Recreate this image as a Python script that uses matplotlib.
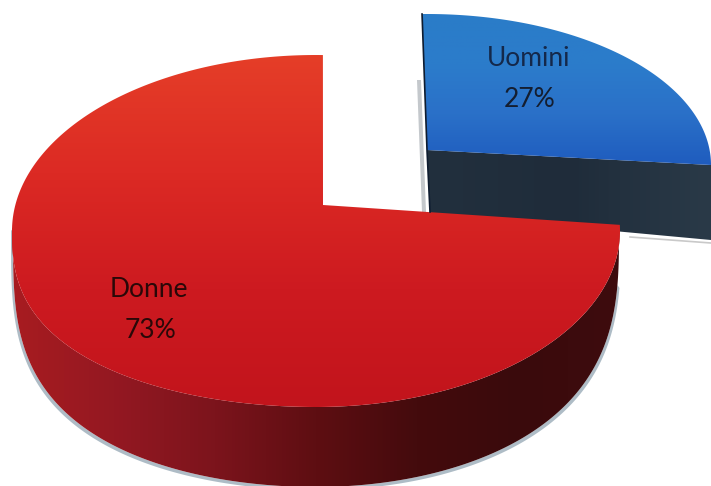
import numpy as np
import matplotlib
matplotlib.use("Agg")
import matplotlib.pyplot as plt
from matplotlib.colors import LinearSegmentedColormap
from matplotlib.patches import Polygon

labels = ["Uomini", "Donne"]
shares = [27, 73]

plt.rcParams["font.family"] = ["Lato", "DejaVu Sans"]

fig = plt.figure(figsize=(7.11, 4.86), dpi=100)
ax = fig.add_axes([0, 0, 1, 1])
ax.set_xlim(0, 711)
ax.set_ylim(486, 0)
ax.axis("off")


def arc(cx, cy, rx, rt, rb, a0, a1, pl=1.0, pr=1.0, n=300):
    # ellipse arc, the lower half is pushed out to fake the perspective
    t = np.radians(np.linspace(a0, a1, n))
    c, s = np.cos(t), np.sin(t)
    x = cx + rx * c
    low = np.abs(s) ** np.where(c < 0, pl, pr)
    y = np.where(s > 0, cy - rt * s, cy + rb * low)
    return np.column_stack([x, y])


def fill(poly, colors, horizontal=False, z=2):
    cmap = LinearSegmentedColormap.from_list("g", colors)
    x0, y0 = poly.min(axis=0)
    x1, y1 = poly.max(axis=0)
    grad = np.linspace(0, 1, 256)
    grad = grad[None, :] if horizontal else grad[:, None]
    im = ax.imshow(grad, cmap=cmap, extent=[x0, x1, y1, y0], aspect="auto", zorder=z)
    im.set_clip_path(Polygon(poly, transform=ax.transData))


# slice boundary on the drawn ellipse, rotated a bit by the view
split = 90 - shares[0] * 3.6
red_from = split + 9.2
red_to = 90 - sum(shares) * 3.6 - 1.3
blue_to = split + 7.2

# red slice
red_c = (323, 205)
red_arc = arc(316, 231, 304, 176, 176, red_from, red_to, pl=0.78)
red_top = np.vstack([red_c, red_arc])

# side wall, from the right corner round to the far left
front = arc(316, 231, 304, 176, 176, red_from, -181, pl=0.78)
bottom = arc(316, 231, 303, 176, 256, -1, -181, pl=0.6, pr=0.68)
side = np.vstack([front, bottom[::-1]])

# thin grey edge under the wall
edge_l = bottom[150:]
edge_r = bottom[:150]
ax.add_patch(Polygon(np.vstack([edge_l, (edge_l + [-2, 3])[::-1]]), fc="#aebcc6", ec="none", zorder=1))
ax.add_patch(Polygon(np.vstack([edge_r[8:], (edge_r[8:] + [2, 3])[::-1]]), fc="#aebcc6", ec="none", zorder=1))

fill(side, ["#a81c20", "#941822", "#7c141c", "#5e0e12", "#440b0d", "#3a0a0c", "#3e0c0e"], horizontal=True)
fill(red_top, ["#e53e28", "#dc2a24", "#cd1a20", "#c2141c"], z=3)

# blue slice, pulled out
blue_c = (427, 150)
blue_arc = arc(427, 165, 284, 151, 151, 91, blue_to)
blue_top = np.vstack([blue_c, blue_arc])
blue_side = np.vstack([blue_c, blue_arc[-1], blue_arc[-1] + [0, 75], (430, 214)])

ax.add_patch(Polygon([(417, 80), (421, 80), (426, 212), (422, 212)], fc="#c4c8cc", ec="none", zorder=1))
ax.plot([630, 711], [237, 243], color="#c9c9c9", lw=1.2, zorder=1)
fill(blue_side, ["#22303e", "#1f2c3a", "#2a3a48"], horizontal=True)
fill(blue_top, ["#2a7cc8", "#2c7ccb", "#2a70c8", "#1f5cbe"], z=3)
ax.plot([blue_arc[0, 0], blue_c[0], 430], [blue_arc[0, 1], blue_c[1], 212], color="#0e1c30", lw=1.2, zorder=4)

ax.text(529, 58, labels[0], ha="center", va="center", fontsize=19, color="#14284a", zorder=5)
ax.text(530, 99, f"{shares[0]}%", ha="center", va="center", fontsize=19, color="#141e30", zorder=5)
ax.text(149, 289, labels[1], ha="center", va="center", fontsize=19, color="#2a0808", zorder=5)
ax.text(150, 330, f"{shares[1]}%", ha="center", va="center", fontsize=19, color="#2a0808", zorder=5)

fig.savefig("out.png", dpi=100)
